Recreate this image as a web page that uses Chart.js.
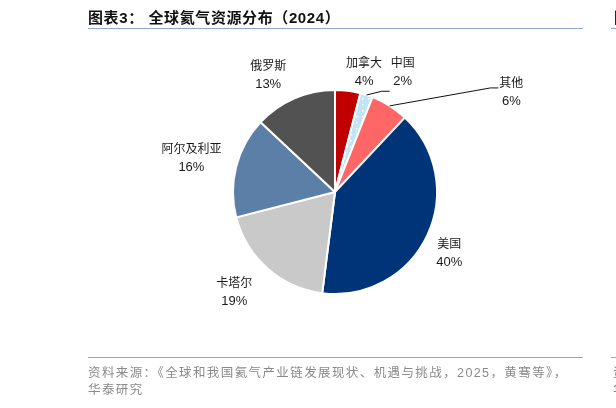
<!DOCTYPE html>
<html>
<head>
<meta charset="utf-8">
<script src="https://cdn.jsdelivr.net/npm/chart.js@4/dist/chart.umd.min.js"></script>
<style>
  html, body { margin: 0; padding: 0; background: #fff; }
  .wrap { position: relative; width: 616px; height: 408px; overflow: hidden; }
  canvas { position: absolute; left: 0; top: 0; }
  .title {
    position: absolute; left: 88px; top: 8px; width: 495px; height: 20px;
    border-bottom: 1.5px solid #8eaacb;
    font: bold 15px "Liberation Sans", "Noto Sans CJK SC", sans-serif;
    letter-spacing: 0.6px;
    color: #111; white-space: nowrap; line-height: 20px;
  }
  .foot {
    position: absolute; left: 88px; top: 357px; width: 495px;
    border-top: 1.5px solid #8eaacb;
    font: 12.5px "Liberation Sans", "Noto Sans CJK SC", sans-serif;
    letter-spacing: 1.4px;
    color: #8a8a8a; line-height: 17px; padding-top: 7px; white-space: nowrap;
  }
  .edge { overflow: hidden; }
</style>
</head>
<body>
<div class="wrap">
  <canvas id="pie" width="616" height="408"></canvas>
  <div class="title">图表3： 全球氦气资源分布（2024）</div>
  <div class="foot">资料来源：《全球和我国氦气产业链发展现状、机遇与挑战，2025，黄骞等》，<br>华泰研究</div>
  <div class="title edge" style="left:611px;width:5px"><span style="padding-left:3px">图表4</span></div>
  <div class="foot edge" style="left:611px;width:5px"><span style="padding-left:2px">资料</span><br><span style="padding-left:2px">华泰</span></div>
</div>
<script>
// 2024 helium reserves by country (share, %)
const countries = ['加拿大', '中国', '其他', '美国', '卡塔尔', '阿尔及利亚', '俄罗斯'];
const shares = [4, 2, 6, 40, 19, 16, 13];
const shareLabels = ['4%', '2%', '6%', '40%', '19%', '16%', '13%'];

function dotted() {
  const c = document.createElement('canvas');
  c.width = 6; c.height = 6;
  const g = c.getContext('2d');
  g.fillStyle = '#bfe5f6';
  g.fillRect(0, 0, 6, 6);
  g.fillStyle = '#ffffff';
  g.fillRect(2, 2, 1.5, 1.5);
  return g.createPattern(c, 'repeat');
}

const colors = ['#c00000', dotted(), '#ff6666', '#003478', '#c9c9c9', '#5b7fa6', '#525252'];

// label tweaks relative to an outside-end spot on each slice
const nudge = [[13, 7], [30, 2], [111, 8], [3, 6], [-16, 4], [-8, -2], [-16, 0]];
const leaders = { 1: 19, 2: -4 };

const labelPlugin = {
  id: 'sliceLabels',
  afterDraw(chart) {
    const ctx = chart.ctx;
    const arcs = chart.getDatasetMeta(0).data;
    ctx.save();
    arcs.forEach((arc, i) => {
      const { x, y, startAngle, endAngle, outerRadius } = arc.getProps(['x', 'y', 'startAngle', 'endAngle', 'outerRadius'], true);
      const mid = (startAngle + endAngle) / 2;
      const dx = Math.cos(mid), dy = Math.sin(mid);
      ctx.font = '12px "Noto Sans CJK SC", sans-serif';
      const w1 = ctx.measureText(countries[i]).width;
      ctx.font = '13px "Liberation Sans", sans-serif';
      const w2 = ctx.measureText(shareLabels[i]).width;
      const w = Math.max(w1, w2), h = 36;
      const px = x + (outerRadius + 8) * dx, py = y + (outerRadius + 8) * dy;
      const cx = px + dx * w / 2 + nudge[i][0];
      const cy = py + dy * h / 2 + nudge[i][1];

      if (leaders[i] !== undefined) {
        const sx = x + outerRadius * dx, sy = y + outerRadius * dy;
        const ex = cx - w / 2 - 1, ey = cy + leaders[i];
        ctx.strokeStyle = '#111';
        ctx.lineWidth = 1;
        ctx.beginPath();
        ctx.moveTo(sx, sy);
        ctx.lineTo(ex - 8, ey);
        ctx.lineTo(ex, ey);
        ctx.stroke();
      }

      ctx.fillStyle = '#1a1a1a';
      ctx.textAlign = 'center';
      ctx.textBaseline = 'middle';
      ctx.font = '12px "Noto Sans CJK SC", sans-serif';
      ctx.fillText(countries[i], cx, cy - 9.5);
      ctx.font = '13px "Liberation Sans", sans-serif';
      ctx.fillText(shareLabels[i], cx, cy + 9.5);
    });
    ctx.restore();
  }
};

new Chart(document.getElementById('pie'), {
  type: 'pie',
  data: {
    labels: countries,
    datasets: [{
      data: shares,
      backgroundColor: colors,
      borderColor: '#ffffff',
      borderWidth: 2,
    }],
  },
  options: {
    responsive: false,
    animation: false,
    devicePixelRatio: 1,
    layout: { padding: { left: 232, right: 178, top: 89, bottom: 113 } },
    plugins: { legend: { display: false }, tooltip: { enabled: false } },
  },
  plugins: [labelPlugin],
});
</script>
</body>
</html>
